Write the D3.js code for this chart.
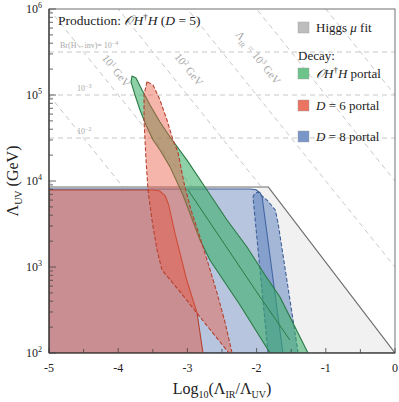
<!DOCTYPE html>
<html><head><meta charset="utf-8">
<script src="https://cdn.jsdelivr.net/npm/d3@7"></script>
<style>
body{margin:0;background:#fff;}
svg text{font-family:"Liberation Serif","DejaVu Serif",serif;}
</style></head>
<body><svg id="c" width="399" height="402"></svg>
<script>
// ---------- data ----------
const xTicks = [-5,-4,-3,-2,-1,0];
const xMinorTicks = [-4.5,-3.5,-2.5,-1.5,-0.5];
const yTickExps = [2,3,4,5,6];
const brLevels = [{v:316000,label:"Br(H\u2192inv)= 10",exp:"\u22124"},{v:100000,label:"10",exp:"\u22123"},{v:31600,label:"10",exp:"\u22122"}];
const irLines = [-2,-1,0,1,2,3,4,5,6]; // log10(Lambda_IR / GeV)
const irLabels = [{k:1,x:-4.07,y:180000,exp:"1",pre:false},
                  {k:2,x:-3.02,y:186000,exp:"2",pre:false},
                  {k:3,x:-2.02,y:255000,exp:"3",pre:true}];
const higgsFit = [[-5,100],[-5,8500],[-1.83,8500],[0,100]];
const d8Wide = [[-5,100],[-5,8070],[-2.1,8070],[-2.01,7900],[-1.95,7300],[-1.92,6500],[-1.62,100]];
const d8Narrow = [[-1.835,100],[-2.052,6500],[-2.03,7100],[-1.98,7450],[-1.92,6700],[-1.85,6000],[-1.73,4600],[-1.69,3250],[-1.40,100]];
const d6Wide = [[-5,100],[-5,7850],[-3.50,7850],[-3.40,7650],[-3.32,6700],[-3.27,5260],[-3.18,2480],[-3.01,706],[-2.86,292],[-2.775,100]];
const d6Narrow = [[-3.584,143000],[-3.627,100000],[-3.627,51200],[-3.598,17500],[-3.569,7850],[-3.512,3520],[-3.439,1580],[-3.367,923],[-3.092,499],[-2.818,262],[-2.399,100],
                  [-2.355,100],[-2.457,229],[-2.572,499],[-2.702,1110],[-2.818,2230],[-2.948,4600],[-3.049,9480],[-3.136,21700],[-3.208,30000],[-3.295,51200],[-3.396,87500],[-3.497,131000]];
const ohhBand = [[-3.80,166000],[-3.743,158000],[-3.656,114000],[-3.540,76500],[-3.396,48500],[-3.251,32500],[-3.006,17500],[-2.717,7850],[-2.428,3520],[-2.139,1710],[-1.879,807],[-1.662,448],[-1.373,153],[-1.257,100],
                 [-1.806,100],[-2.24,361],[-2.673,1200],[-2.818,2060],[-3.064,6870],[-3.251,14600],[-3.396,22900],[-3.497,30000],[-3.598,44800],[-3.685,67000],[-3.757,100000],[-3.815,142000]];
const ohhInner = [[-2.99,7850],[-1.95,448],[-1.52,142]];
const legendItems = [{name:"higgs",color:"#bdbdbd"},{name:"ohh",color:"#6cc48a"},{name:"d6",color:"#ec7561"},{name:"d8",color:"#7a96c8"}];

// ---------- layout ----------
const svg = d3.select("#c");
const L=49,R=395,T=9,B=353;
const x = d3.scaleLinear().domain([-5,0]).range([L,R]);
const y = d3.scaleLog().domain([100,1e6]).range([B,T]);
const line = d3.line().x(d=>x(d[0])).y(d=>y(d[1]));

svg.append("defs").append("clipPath").attr("id","clip").append("rect")
  .attr("x",L).attr("y",T).attr("width",R-L).attr("height",B-T);
const g = svg.append("g").attr("clip-path","url(#clip)");

// Br reference lines
g.selectAll("line.br").data(brLevels).join("line")
  .attr("x1",L).attr("x2",R).attr("y1",d=>y(d.v)).attr("y2",d=>y(d.v))
  .attr("stroke","#c8c8c8").attr("stroke-width",1).attr("stroke-dasharray","5,4");
// Lambda_IR lines: log(L_UV) = k - x
g.selectAll("line.ir").data(irLines).join("line")
  .attr("x1",k=>x(-5)).attr("y1",k=>y(Math.pow(10,k+5)))
  .attr("x2",k=>x(0)).attr("y2",k=>y(Math.pow(10,k)))
  .attr("stroke","#c8c8c8").attr("stroke-width",1).attr("stroke-dasharray","5,4");

// regions
function region(data, fill, op, stroke, dash){
  g.append("path").attr("d",line(data)+"Z").attr("fill",fill).attr("fill-opacity",op)
   .attr("stroke",stroke).attr("stroke-width",1.1).attr("stroke-dasharray",dash||null).attr("stroke-linejoin","round");
}
region(higgsFit,"#f1f1f1",1,"#6e6e6e");
region(d8Wide,"#5a80c0",0.38,"#3e5f98");
region(d8Narrow,"#4a70b5",0.45,"#3e5f98","4,2");
region(ohhBand,"#36ad66",0.56,"#2a7a45");
g.append("path").attr("d",line(ohhInner)).attr("fill","none").attr("stroke","#2a7a45").attr("stroke-width",1);
region(d6Wide,"#e04a36",0.45,"#b5412f");
region(d6Narrow,"#ea5a44",0.45,"#b5412f","4,2");

// axes frame
svg.append("rect").attr("x",L).attr("y",T).attr("width",R-L).attr("height",B-T)
  .attr("fill","none").attr("stroke","#707070").attr("stroke-width",1);
svg.append("line").attr("x1",L).attr("x2",L).attr("y1",T).attr("y2",B).attr("stroke","#333").attr("stroke-width",1.2);
svg.append("line").attr("x1",L).attr("x2",R).attr("y1",B).attr("y2",B).attr("stroke","#333").attr("stroke-width",1.2);

// y ticks (inside, log minor)
const yMinor=[];
for(let e=2;e<6;e++) for(let m=2;m<=9;m++) yMinor.push(m*Math.pow(10,e));
svg.selectAll("line.ym").data(yMinor).join("line")
  .attr("x1",L).attr("x2",L+4).attr("y1",d=>y(d)).attr("y2",d=>y(d)).attr("stroke","#444").attr("stroke-width",0.8);
svg.selectAll("line.yM").data(yTickExps).join("line")
  .attr("x1",L).attr("x2",L+7).attr("y1",d=>y(Math.pow(10,d))).attr("y2",d=>y(Math.pow(10,d))).attr("stroke","#444").attr("stroke-width",0.8);
const yl = svg.selectAll("text.yl").data(yTickExps).join("text")
  .attr("x",L-7).attr("y",d=>y(Math.pow(10,d))+4).attr("text-anchor","end").attr("font-size",12).attr("fill","#222");
yl.append("tspan").text("10");
yl.append("tspan").attr("dy",-5).attr("font-size",8).text(d=>d);

// x ticks
svg.selectAll("line.xM").data(xTicks).join("line")
  .attr("x1",d=>x(d)).attr("x2",d=>x(d)).attr("y1",B).attr("y2",B-5).attr("stroke","#444").attr("stroke-width",0.8);
svg.selectAll("line.xm").data(xMinorTicks).join("line")
  .attr("x1",d=>x(d)).attr("x2",d=>x(d)).attr("y1",B).attr("y2",B-4).attr("stroke","#444").attr("stroke-width",0.8);
svg.selectAll("text.xl").data(xTicks).join("text")
  .attr("x",d=>x(d)).attr("y",B+19).attr("text-anchor","middle").attr("font-size",12).attr("fill","#222")
  .text(d=>String(d));

// axis titles
const xt = svg.append("text").attr("x",(L+R)/2).attr("y",394).attr("text-anchor","middle").attr("font-size",16).attr("fill","#222");
xt.append("tspan").text("Log");
xt.append("tspan").attr("dy",4).attr("font-size",10).text("10");
xt.append("tspan").attr("dy",-4).text("(\u039B");
xt.append("tspan").attr("dy",4).attr("font-size",10).text("IR");
xt.append("tspan").attr("dy",-4).text("/\u039B");
xt.append("tspan").attr("dy",4).attr("font-size",10).text("UV");
xt.append("tspan").attr("dy",-4).text(")");
const yt = svg.append("text").attr("transform","translate(18,181) rotate(-90)").attr("text-anchor","middle").attr("font-size",16).attr("fill","#222");
yt.append("tspan").text("\u039B");
yt.append("tspan").attr("dy",4).attr("font-size",10).text("UV");
yt.append("tspan").attr("dy",-4).text(" (GeV)");

// Br labels
const bl = svg.selectAll("text.br").data(brLevels).join("text")
  .attr("x",(d,i)=>i===0?60:77).attr("y",d=>y(d.v)-4).attr("font-size",8)
  .attr("font-family","DejaVu Sans, sans-serif").attr("fill","#a8a8a8");
bl.append("tspan").text(d=>d.label);
bl.append("tspan").attr("dy",-3).attr("font-size",6).text(d=>d.exp);

// IR labels
const ang = Math.atan2(y(1e4)-y(1e5), x(-3)-x(-4))*180/Math.PI;
const il = svg.selectAll("text.ir").data(irLabels).join("text")
  .attr("transform",d=>"translate("+x(d.x)+","+y(d.y)+") rotate("+ang+")")
  .attr("text-anchor","middle").attr("font-size",11)
  .attr("font-family","DejaVu Sans, sans-serif").attr("fill","#a8a8a8");
il.each(function(d){
  const t=d3.select(this);
  if(d.pre){ t.append("tspan").text("\u039B"); t.append("tspan").attr("dy",3).attr("font-size",7).text("IR"); t.append("tspan").attr("dy",-3).text(" = 10"); }
  else t.append("tspan").text("10");
  t.append("tspan").attr("dy",-4).attr("font-size",7).text(d.exp);
  t.append("tspan").attr("dy",4).text(" GeV");
});

// title
const tt = svg.append("text").attr("x",58).attr("y",25).attr("font-size",13.5).attr("fill","#222");
tt.append("tspan").text("Production: ");
tt.append("tspan").attr("font-style","italic").text("\uD835\uDCAA");
tt.append("tspan").attr("font-style","italic").text("H");
tt.append("tspan").attr("dy",-5).attr("font-size",9).text("\u2020");
tt.append("tspan").attr("dy",5).attr("font-style","italic").text("H");
tt.append("tspan").text(" (");
tt.append("tspan").attr("font-style","italic").text("D");
tt.append("tspan").text(" = 5)");

// legend
const ly = [22,68,100,131];
svg.selectAll("rect.lg").data(legendItems).join("rect")
  .attr("x",298).attr("y",(d,i)=>ly[i]).attr("width",11).attr("height",11)
  .attr("fill",d=>d.color).attr("stroke","#999").attr("stroke-width",0.4);
function legText(i, parts){
  const t = svg.append("text").attr("x",316).attr("y",ly[i]+10).attr("font-size",13).attr("fill","#222");
  parts.forEach(p=>{const s=t.append("tspan").text(p.t); if(p.i) s.attr("font-style","italic"); if(p.sup) s.attr("dy",-5).attr("font-size",9); if(p.down) s.attr("dy",5);});
}
legText(0,[{t:"Higgs "},{t:"\u03BC",i:1},{t:" fit"}]);
svg.append("text").attr("x",298).attr("y",60).attr("font-size",13).attr("fill","#222").text("Decay:");
legText(1,[{t:"\uD835\uDCAA",i:1},{t:"H",i:1},{t:"\u2020",sup:1},{t:"H",i:1,down:1},{t:" portal"}]);
legText(2,[{t:"D",i:1},{t:" = 6 portal"}]);
legText(3,[{t:"D",i:1},{t:" = 8 portal"}]);
</script></body></html>
